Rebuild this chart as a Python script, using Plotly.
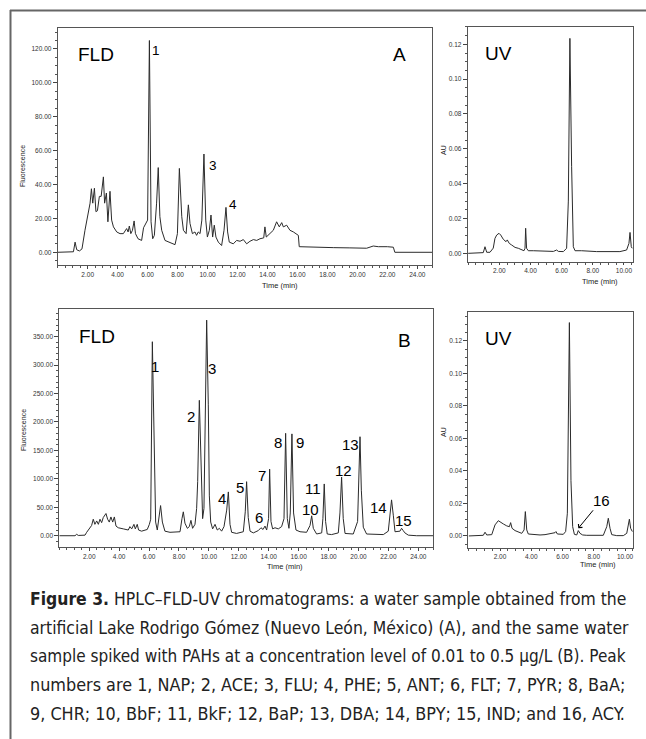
import plotly.graph_objects as go

W, H = 646, 739

# ---------------- data ----------------
# Panel A, fluorescence detector (time in min, fluorescence units)
fld_a_time = [0.00, 0.90, 1.05, 1.16, 1.27, 1.45, 1.62, 1.82, 1.95, 2.05, 2.16, 2.25, 2.34, 2.45,
              2.55, 2.65, 2.78, 2.90, 3.05, 3.13, 3.25, 3.35, 3.49, 3.60, 3.72, 3.94, 4.16, 4.38,
              4.60, 4.70, 4.78, 4.88, 4.99, 5.10, 5.19, 5.36, 5.60, 5.73, 5.87, 6.00, 6.12, 6.23,
              6.34, 6.45, 6.60, 6.71, 6.82, 6.94, 7.16, 7.50, 7.83, 7.99, 8.12, 8.28, 8.39, 8.57,
              8.72, 8.83, 8.99, 9.16, 9.27, 9.38, 9.50, 9.62, 9.76, 9.88, 9.99, 10.12, 10.23,
              10.34, 10.45, 10.56, 10.72, 10.94, 11.10, 11.23, 11.34, 11.45, 11.72, 11.94, 12.17,
              12.39, 12.61, 12.83, 13.06, 13.28, 13.50, 13.75, 13.83, 13.92, 14.17, 14.39, 14.61,
              14.79, 14.95, 15.06, 15.28, 15.50, 15.73, 16.06, 16.12, 16.61, 17.50, 18.39, 19.50,
              20.62, 21.06, 21.40, 22.00, 22.40, 22.50, 25.00]
fld_a_signal = [0, 0, 0.3, 6.0, 1.5, 0.8, 2.0, 13, 20, 24, 29, 37.5, 29, 37.8,
                24, 24.5, 33, 33, 44.5, 29, 35, 18, 36, 19, 15, 12, 11, 11,
                14, 12, 15.5, 11, 13, 18.5, 11, 8, 7, 14.5, 17, 19, 125, 18,
                8, 10, 29, 50, 21, 13, 7, 5.5, 4.5, 11, 49.5, 21, 13, 11,
                28, 17, 11, 12, 10, 12, 11, 19, 58, 19, 9, 13, 22,
                9, 16, 9, 6, 4, 13, 26.5, 12, 6, 5, 7, 6.5,
                7.5, 5, 6.5, 7.5, 7, 8, 8.5, 15, 9, 11, 13, 18,
                15, 17.5, 15, 16, 13, 12, 10, 3.3, 3.1, 3.0, 2.75, 2.6,
                2.4, 3.7, 3.3, 3.3, 3.0, 0, 0]

# Panel A, UV detector (time in min, AU)
uv_a_time = [0.00, 0.76, 0.97, 1.08, 1.19, 1.40, 1.61, 1.72, 1.83, 1.98, 2.09, 2.26, 2.43, 2.51,
             2.64, 2.79, 3.01, 3.22, 3.43, 3.58, 3.65, 3.69, 3.75, 3.86, 4.18, 4.82, 5.47, 5.68,
             5.79, 6.11, 6.32, 6.43, 6.53, 6.64, 6.75, 6.86, 7.28, 8.25, 9.74, 10.17, 10.32,
             10.39, 10.47, 10.53]
uv_a_signal = [0, 0, 0.0004, 0.0038, 0.0006, 0.0006, 0.003, 0.0086, 0.0105, 0.0115, 0.0105, 0.008,
               0.0067, 0.0077, 0.0057, 0.0048, 0.0034, 0.0029, 0.0019, 0.0015, 0.0029, 0.0144,
               0.0029, 0.0015, 0.0015, 0.0013, 0.0011, 0.0019, 0.0011, 0.001, 0.0029, 0.03,
               0.1234, 0.05, 0.0038, 0.0015, 0.0015, 0.001, 0.001, 0.0019, 0.0057, 0.012,
               0.0038, 0.0029]

# Panel B, fluorescence detector (spiked sample)
fld_b_time = [0.00, 1.05, 1.16, 1.27, 1.72, 1.83, 2.16, 2.27, 2.38, 2.50, 2.61, 2.72, 2.83, 2.94,
              3.12, 3.23, 3.34, 3.45, 3.57, 3.68, 3.79, 3.94, 4.28, 4.61, 4.72, 4.84, 4.99, 5.08,
              5.21, 5.30, 5.50, 5.88, 6.02, 6.11, 6.22, 6.35, 6.44, 6.55, 6.66, 6.77, 6.89, 7.06,
              7.40, 8.07, 8.20, 8.29, 8.40, 8.56, 8.69, 8.80, 8.91, 9.07, 9.18, 9.25, 9.36, 9.47,
              9.58, 9.67, 9.76, 9.85, 9.96, 10.03, 10.12, 10.25, 10.41, 10.56, 10.70, 10.85,
              11.01, 11.19, 11.30, 11.41, 11.52, 11.85, 12.30, 12.43, 12.52, 12.63, 12.75, 12.97,
              13.30, 13.48, 13.62, 13.75, 13.86, 13.99, 14.06, 14.15, 14.26, 14.42, 14.64, 14.86,
              15.02, 15.13, 15.24, 15.35, 15.44, 15.55, 15.66, 15.82, 16.09, 16.53, 16.76, 16.87,
              16.98, 17.20, 17.54, 17.62, 17.71, 17.80, 17.91, 18.20, 18.65, 18.76, 18.87, 18.98,
              19.10, 19.65, 19.94, 20.03, 20.10, 20.19, 20.32, 20.54, 21.66, 21.99, 22.10, 22.21,
              22.33, 22.44, 22.77, 22.88, 22.99, 23.10, 23.33, 23.89, 25.00]
fld_b_signal = [0, 0, 2.5, 0.5, 1, 6, 18, 29, 20, 26, 20, 29, 23, 32,
                39, 29, 24, 33, 24, 33, 17, 14, 12, 10, 16, 12, 20, 12,
                20, 10, 8, 11, 20, 29, 341, 113, 24, 10, 28, 53, 24, 8,
                6, 7, 30, 42, 22, 13, 16, 27, 13, 20, 48, 95, 238, 145,
                30, 48, 230, 379, 230, 70, 24, 12, 20, 10, 13, 8,
                16, 45, 77, 20, 6, 4, 7, 42, 95, 32, 8, 5,
                9, 14, 11, 17, 10, 30, 117, 25, 12, 14, 12, 16,
                30, 180, 30, 13, 40, 179, 40, 10, 7, 6, 18, 35,
                13, 3, 5, 30, 91, 25, 3, 2, 5, 40, 103, 30,
                4, 3, 25, 100, 174, 80, 15, 3, 2, 8, 35, 63,
                35, 7, 8, 13, 9, 5, 1, 0, 0]

# Panel B, UV detector (spiked sample)
uv_b_time = [0.00, 0.72, 0.93, 1.04, 1.15, 1.47, 1.57, 1.68, 1.89, 2.04, 2.21, 2.43, 2.60, 2.68,
             2.77, 2.96, 3.17, 3.39, 3.54, 3.62, 3.71, 3.81, 4.56, 4.88, 5.52, 5.58, 5.67, 6.05,
             6.20, 6.31, 6.44, 6.54, 6.65, 6.76, 6.91, 7.01, 7.12, 7.29, 7.55, 8.19, 8.61, 8.83,
             8.93, 9.04, 9.15, 9.47, 9.89, 10.11, 10.21, 10.28, 10.36, 10.47]
uv_b_signal = [0, 0, 0.0004, 0.0023, 0.0006, 0.0008, 0.0037, 0.0068, 0.0094, 0.0082, 0.0074,
               0.0062, 0.0057, 0.0082, 0.0047, 0.0033, 0.0027, 0.0016, 0.0037, 0.015, 0.0037,
               0.0012, 0.0006, 0.0008, 0.002, 0.0027, 0.0012, 0.001, 0.0027, 0.014, 0.1313,
               0.034, 0.0057, 0.001, 0.0006, 0.0033, 0.0016, 0.0006, 0.0004, 0.0002, 0.0004,
               0.0057, 0.0109, 0.0047, 0.0008, 0.0002, 0.0002, 0.0016, 0.0057, 0.0103, 0.0047,
               0.0027]

fld_x_ticks = [2, 4, 6, 8, 10, 12, 14, 16, 18, 20, 22, 24]
uv_x_ticks = [2, 4, 6, 8, 10]
fld_a_y_ticks = [0, 20, 40, 60, 80, 100, 120]
fld_b_y_ticks = [0, 50, 100, 150, 200, 250, 300, 350]
uv_y_ticks = [0, 0.02, 0.04, 0.06, 0.08, 0.10, 0.12]

caption_lines = [
    "<b>Figure 3.</b> HPLC–FLD-UV chromatograms: a water sample obtained from the",
    "artificial Lake Rodrigo Gómez (Nuevo León, México) (A), and the same water",
    "sample spiked with PAHs at a concentration level of 0.01 to 0.5 μg/L (B). Peak",
    "numbers are 1, NAP; 2, ACE; 3, FLU; 4, PHE; 5, ANT; 6, FLT; 7, PYR; 8, BaA;",
    "9, CHR; 10, BbF; 11, BkF; 12, BaP; 13, DBA; 14, BPY; 15, IND; and 16, ACY.",
]
# per-line font size so that each line spans the same width (justified look)
caption_sizes = [17.4, 17.4, 17.0, 17.85, 17.85]

# ---------------- figure ----------------
LINE = dict(color="#2b2b2b", width=1)
fig = go.Figure()
fig.add_trace(go.Scatter(x=fld_a_time, y=fld_a_signal, mode="lines", line=LINE, xaxis="x", yaxis="y", hoverinfo="skip"))
fig.add_trace(go.Scatter(x=uv_a_time, y=uv_a_signal, mode="lines", line=LINE, xaxis="x2", yaxis="y2", hoverinfo="skip"))
fig.add_trace(go.Scatter(x=fld_b_time, y=fld_b_signal, mode="lines", line=LINE, xaxis="x3", yaxis="y3", hoverinfo="skip"))
fig.add_trace(go.Scatter(x=uv_b_time, y=uv_b_signal, mode="lines", line=LINE, xaxis="x4", yaxis="y4", hoverinfo="skip"))


def dom_x(a, b):
    return [a / W, b / W]


def dom_y(top, bottom):
    return [1 - bottom / H, 1 - top / H]


TICKFONT = dict(family="Liberation Sans, Arial", size=6.5, color="#333")
AXCOMMON = dict(showline=True, mirror=True, linecolor="#555", linewidth=1, ticks="outside",
                tickcolor="#444", tickfont=TICKFONT, showgrid=False, zeroline=False,
                fixedrange=True)


def xax(domain, rng, ticks, anchor, minor_dtick, ticklen):
    return dict(AXCOMMON, domain=domain, range=rng, tickvals=ticks, ticklen=ticklen,
                ticktext=["%.2f" % t for t in ticks], anchor=anchor,
                minor=dict(ticks="outside", ticklen=2, tickcolor="#555", dtick=minor_dtick, tick0=0))


def yax(domain, rng, ticks, anchor, minor_dtick):
    return dict(AXCOMMON, domain=domain, range=rng, tickvals=ticks, ticklen=4,
                ticktext=["%.2f" % t for t in ticks], anchor=anchor,
                minor=dict(ticks="outside", ticklen=2, tickcolor="#555", dtick=minor_dtick, tick0=0))


fig.update_layout(
    width=W, height=H, margin=dict(l=0, r=0, t=0, b=0),
    paper_bgcolor="white", plot_bgcolor="white", showlegend=False,
    xaxis=xax(dom_x(57.7, 432.3), [0, 25], fld_x_ticks, "y", 0.5, 3),
    yaxis=yax(dom_y(28.3, 265), [-7.5, 132.2], fld_a_y_ticks, "x", 5),
    xaxis2=xax(dom_x(467.7, 633.3), [-0.03, 10.6], uv_x_ticks, "y2", 0.5, 2),
    yaxis2=yax(dom_y(26.7, 261.7), [-0.0048, 0.1301], uv_y_ticks, "x2", 0.005),
    xaxis3=xax(dom_x(59.3, 433.3), [0, 25], fld_x_ticks, "y3", 0.5, 3),
    yaxis3=yax(dom_y(309.3, 546.7), [-19.3, 398], fld_b_y_ticks, "x3", 10),
    xaxis4=xax(dom_x(468.3, 633.3), [-0.03, 10.53], uv_x_ticks, "y4", 0.5, 2),
    yaxis4=yax(dom_y(311.7, 548.3), [-0.0076, 0.138], uv_y_ticks, "x4", 0.005),
)

ann = []


def label(text, x, y, size, color="black", family="Liberation Sans, Arial", angle=0, xanchor="center"):
    ann.append(dict(text=text, x=x / W, y=1 - y / H, xref="paper", yref="paper",
                    showarrow=False, xanchor=xanchor, yanchor="middle", textangle=angle,
                    font=dict(family=family, size=size, color=color)))


# panel labels
label("FLD", 96, 55, 19)
label("A", 399, 55, 19)
label("UV", 498, 53, 19)
label("FLD", 97, 337, 19)
label("B", 404, 340, 19)
label("UV", 498, 338, 19)

# peak numbers, panel A
for t, x, y in [("1", 156, 51), ("3", 213, 165), ("4", 233, 204)]:
    label(t, x, y, 13.5)
# peak numbers, panel B
for t, x, y in [("1", 155, 366), ("2", 191, 416), ("3", 212, 368), ("4", 222, 498),
                ("5", 240, 487), ("6", 259, 517), ("7", 262, 475), ("8", 278, 442),
                ("9", 300, 442), ("10", 310, 509), ("11", 313, 488), ("12", 343, 470),
                ("13", 350, 444), ("14", 378, 507), ("15", 403, 520)]:
    label(t, x, y, 15)

# axis titles
for x, y in [(280, 285), (285, 566)]:
    label("Time (min)", x, y, 7.5, color="#222")
for x, y in [(600, 281), (598, 564)]:
    label("Time (min)", x, y, 7.5, color="#222")
for x, y in [(23, 166), (23, 430)]:
    label("Fluorescence", x, y, 7, color="#222", angle=-90)
for x, y in [(443, 150), (443, 432)]:
    label("AU", x, y, 7, color="#222", angle=-90)

# arrow for peak 16
ann.append(dict(text="16", x=7.01, y=0.0047, xref="x4", yref="y4", ax=23, ay=-28,
                showarrow=True, arrowhead=4, arrowsize=1, arrowwidth=1, arrowcolor="black",
                font=dict(family="Liberation Sans, Arial", size=15, color="black")))

# caption
for i, line in enumerate(caption_lines):
    label(line, 28, 599 + i * 28.6, caption_sizes[i], color="#222",
          family="Liberation Sans Narrow, DejaVu Sans Condensed, Liberation Sans", xanchor="left")

fig.update_layout(annotations=ann)

# outer frame
fig.add_shape(type="line", xref="paper", yref="paper", x0=10 / W, x1=1, y0=1 - 10.5 / H, y1=1 - 10.5 / H,
              line=dict(color="#666", width=2))
fig.add_shape(type="line", xref="paper", yref="paper", x0=10.5 / W, x1=10.5 / W, y0=0, y1=1 - 10 / H,
              line=dict(color="#666", width=2))

fig.write_html("out.html", config={"displayModeBar": False},
               post_script="document.body.style.margin='0px';")
